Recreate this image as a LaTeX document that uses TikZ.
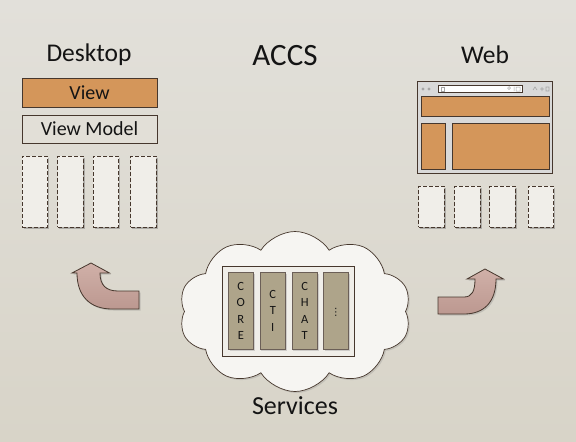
\documentclass[tikz,border=0pt]{standalone}
\usepackage{fontspec}
\setmainfont{Carlito}
\newfontfamily\symfont{DejaVu Sans}
\usetikzlibrary{shapes.symbols,shadows}
\definecolor{bgtop}{RGB}{226,224,218}
\definecolor{bgbot}{RGB}{216,212,200}
\definecolor{edge}{RGB}{70,55,45}
\definecolor{orangefill}{RGB}{212,150,90}
\definecolor{vmfill}{RGB}{226,223,215}
\definecolor{slotfill}{RGB}{240,238,233}
\definecolor{svcfill}{RGB}{174,164,138}
\definecolor{cloudfill}{RGB}{246,245,242}
\definecolor{arrowtop}{RGB}{208,176,168}
\definecolor{arrowbot}{RGB}{188,152,144}
\definecolor{browserfill}{RGB}{217,217,217}
\definecolor{txt}{RGB}{20,20,20}
\begin{document}
\begin{tikzpicture}[x=1pt,y=-1pt,
  every node/.style={text=txt},
  title/.style={font=\fontsize{25.5}{28}\selectfont},
  solidbox/.style={draw=edge,line width=0.8pt,fill=orangefill},
  slot/.style={draw=edge,line width=0.8pt,dash pattern=on 4pt off 2pt,fill=slotfill,
     drop shadow={shadow xshift=1.5pt,shadow yshift=-1.5pt,opacity=0.4,fill=black!60}},
  svc/.style={draw=edge!80,line width=0.6pt,fill=svcfill,
     drop shadow={shadow xshift=1.2pt,shadow yshift=-1.2pt,opacity=0.3}},
  bentarrow/.style={draw=edge,line width=0.8pt,top color=arrowtop,bottom color=arrowbot,
     drop shadow={shadow xshift=1.5pt,shadow yshift=-1.5pt,opacity=0.3}},
  letters/.style={font=\fontsize{12.5}{16.5}\selectfont,align=center}
]
\useasboundingbox (0,0) rectangle (576,442);
\shade[top color=bgtop,bottom color=bgbot] (0,0) rectangle (576,442);

% titles
\node[title] (desktop) at (89,55) {Desktop};
\node[font=\fontsize{31}{36}\selectfont] (accs) at (285,56) {ACCS};
\node[title] (web) at (485,55) {Web};

% desktop stack
\node[solidbox,minimum width=135pt,minimum height=29pt,inner sep=0pt,font=\fontsize{20}{22}\selectfont] (view) at (89.5,92.5) {View};
\node[solidbox,fill=vmfill,minimum width=135pt,minimum height=28pt,inner sep=0pt,font=\fontsize{20}{22}\selectfont] (vm) at (89.5,129) {View Model};
\foreach \i/\x in {1/35,2/70.5,3/106,4/143.5}{
  \node[slot,minimum width=25.5pt,minimum height=71pt,inner sep=0pt] (d\i) at (\x,191.5) {};
}

% web browser
\node[draw=edge,line width=0.8pt,fill=browserfill,minimum width=135pt,minimum height=92pt,inner sep=0pt] (browser) at (485,127) {};
\node[draw=edge,line width=0.6pt,fill=white,minimum width=84pt,minimum height=6.5pt,inner sep=0pt] (addr) at (480.5,89) {};
\node[solidbox,minimum width=128pt,minimum height=20pt,inner sep=0pt] (wtop) at (485.2,106.7) {};
\node[solidbox,minimum width=24.5pt,minimum height=46pt,inner sep=0pt] (wleft) at (433.3,146.3) {};
\node[solidbox,minimum width=97pt,minimum height=46pt,inner sep=0pt] (wright) at (500.8,146.3) {};
\fill[gray!70] (423,89) circle (1.6pt) (429,89) circle (1.6pt);
\draw[gray!70,line width=0.6pt] (441,87) rectangle (444,91);
\draw[gray!70,line width=0.5pt] (509,88) circle (1.4pt) (514,86.5) -- (514,91) (516,87) rectangle (520,91);
\draw[gray!70,line width=0.6pt] (533,90) -- (535,87) -- (537,90) (540,89) -- (544,89) (542,87) -- (542,91) (546,87) rectangle (549,91);
\foreach \i/\x in {1/431.6,2/467.6,3/502.6,4/540.8}{
  \node[slot,minimum width=25.5pt,minimum height=41pt,inner sep=0pt] (w\i) at (\x,206.6) {};
}

% cloud
\node[cloud,cloud puffs=10,cloud puff arc=115,aspect=1.45,draw=edge,line width=0.7pt,fill=cloudfill,
  minimum width=232pt,minimum height=160pt,inner sep=0pt,
  drop shadow={shadow xshift=1.5pt,shadow yshift=-1.5pt,opacity=0.25}] (cloud) at (295,311.5) {};
\node[draw=edge,line width=0.8pt,fill=slotfill,minimum width=132pt,minimum height=90pt,inner sep=0pt] (frame) at (288.3,311.7) {};
\node[svc,minimum width=25pt,minimum height=77pt,inner sep=0pt] (core) at (240.8,310.8) {};
\node[svc,minimum width=25.7pt,minimum height=77pt,inner sep=0pt] (cti) at (272.8,310.8) {};
\node[svc,minimum width=25.3pt,minimum height=77pt,inner sep=0pt] (chat) at (304.7,310.8) {};
\node[svc,minimum width=25pt,minimum height=77pt,inner sep=0pt] (more) at (335.8,310.8) {};
\node[letters] at (core) {C\\O\\R\\E};
\node[letters] at (cti) {C\\T\\I};
\node[letters] at (chat) {C\\H\\A\\T};
\node[font=\symfont\fontsize{10}{12}\selectfont] at ([yshift=-2pt]more.center) {⋮};
\node[font=\fontsize{26}{29}\selectfont] (services) at (295,406) {Services};

% bent arrows
\path[bentarrow] (91,263) -- (109.5,273) -- (100,273)
  .. controls (100,285) and (106,291) .. (118,291) -- (139,291) -- (139,309) -- (112,309)
  .. controls (90,309) and (77,296) .. (77,273) -- (72,273) -- cycle;
\path[bentarrow] (485,269) -- (503.5,279) -- (496,279)
  .. controls (496,302) and (484,314) .. (464,314) -- (438,314) -- (438,297) -- (464,297)
  .. controls (472,297) and (475,291) .. (475,279) -- (467,279) -- cycle;
\end{tikzpicture}
\end{document}
